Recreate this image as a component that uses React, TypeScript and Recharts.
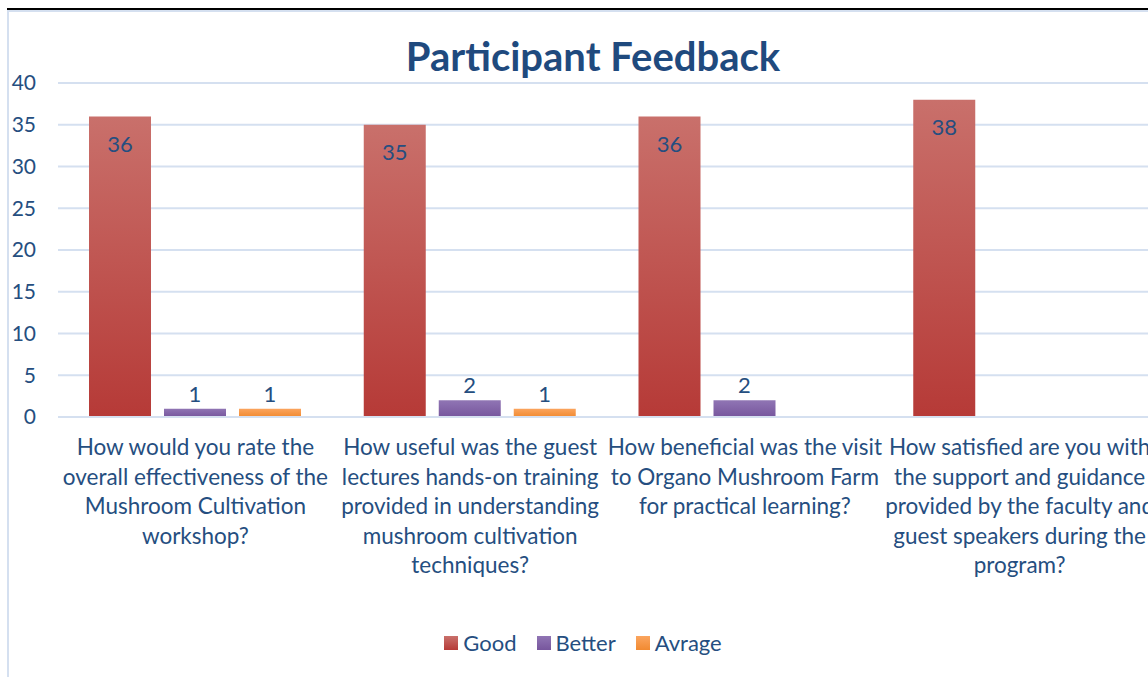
import { BarChart, Bar, XAxis, YAxis, CartesianGrid, Legend, LabelList } from "recharts";

const categories = [
  "How would you rate the\noverall effectiveness of the\nMushroom Cultivation\nworkshop?",
  "How useful was the guest\nlectures hands-on training\nprovided in understanding\nmushroom cultivation\ntechniques?",
  "How beneficial was the visit\nto Organo Mushroom Farm\nfor practical learning?",
  "How satisfied are you with\nthe support and guidance\nprovided by the faculty and\nguest speakers during the\nprogram?",
];
const good = [36, 35, 36, 38];
const better = [1, 2, 2, null];
const avrage = [1, 1, null, null];
const yTicks = [0, 5, 10, 15, 20, 25, 30, 35, 40];

const data = categories.map((name, i) => ({
  name,
  good: good[i],
  better: better[i],
  avrage: avrage[i],
}));

const FONT = "Lato, 'Open Sans', sans-serif";
const TEXT = "#254e80";
const GRID = "#d5e0f0";

const series = [
  { key: "good", name: "Good", grad: "gGood", top: "#c9706b", bottom: "#b63a37" },
  { key: "better", name: "Better", grad: "gBetter", top: "#9075b4", bottom: "#77569d" },
  { key: "avrage", name: "Avrage", grad: "gAvrage", top: "#fba55f", bottom: "#f18a31" },
];

// wrapped category labels, one tspan per line
const CategoryTick = ({ x, y, payload }: any) => {
  const lines = String(payload.value).split("\n");
  return (
    <text x={x} y={y} textAnchor="middle" fill={TEXT} fontSize={22.5} fontFamily={FONT}>
      {lines.map((l, i) => (
        <tspan key={i} x={x} dy={i === 0 ? 30 : 29.5}>
          {l}
        </tspan>
      ))}
    </text>
  );
};

const LegendContent = () => (
  <div style={{ display: "flex", justifyContent: "center", gap: 20, fontFamily: FONT, fontSize: 22, color: TEXT }}>
    {series.map((s) => (
      <div key={s.key} style={{ display: "flex", alignItems: "center", gap: 5 }}>
        <div style={{ width: 14, height: 14, background: `linear-gradient(${s.top}, ${s.bottom})` }} />
        <span>{s.name}</span>
      </div>
    ))}
  </div>
);

const App = () => {
  return (
    <div style={{ position: "relative", width: 1148, height: 677, overflow: "hidden", background: "#fff" }}>
      <style>{`body{margin:0;overflow:hidden}`}</style>
      <div style={{ position: "absolute", left: 7, top: 8, width: 1160, height: 2, background: "#000" }} />
      <div
        style={{
          position: "absolute",
          left: 7,
          top: 10,
          width: 1170,
          height: 680,
          borderLeft: `2px solid ${GRID}`,
          borderTop: `2px solid ${GRID}`,
          boxSizing: "border-box",
        }}
      >
        <div
          style={{
            position: "absolute",
            left: 0,
            right: 0,
            top: 20,
            textAlign: "center",
            fontFamily: FONT,
            fontWeight: 700,
            fontSize: 40,
            lineHeight: "48px",
            color: "#1f4a7e",
          }}
        >
          Participant Feedback
        </div>
        <BarChart
          width={1166}
          height={667}
          data={data}
          margin={{ top: 71, right: 18, left: 0, bottom: 23 }}
          barCategoryGap={31}
          barGap={13}
        >
          <defs>
            {series.map((s) => (
              <linearGradient key={s.grad} id={s.grad} x1="0" y1="0" x2="0" y2="1">
                <stop offset="0%" stopColor={s.top} />
                <stop offset="100%" stopColor={s.bottom} />
              </linearGradient>
            ))}
          </defs>
          <CartesianGrid vertical={false} stroke={GRID} strokeWidth={2} />
          <XAxis
            dataKey="name"
            axisLine={{ stroke: GRID, strokeWidth: 2 }}
            tickLine={false}
            interval={0}
            height={212}
            tick={<CategoryTick />}
          />
          <YAxis
            domain={[0, 40]}
            ticks={yTicks}
            width={49}
            axisLine={false}
            tickLine={false}
            tickSize={0}
            tickMargin={22}
            tick={{ fill: TEXT, fontSize: 21, fontFamily: FONT }}
          />
          <Legend verticalAlign="bottom" content={<LegendContent />} />
          {series.map((s) => (
            <Bar key={s.key} dataKey={s.key} name={s.name} fill={`url(#${s.grad})`} isAnimationActive={false}>
              <LabelList
                dataKey={s.key}
                position={s.key === "good" ? "insideTop" : "top"}
                offset={s.key === "good" ? 20 : 7}
                fill={TEXT}
                fontSize={22}
                fontFamily={FONT}
              />
            </Bar>
          ))}
        </BarChart>
      </div>
    </div>
  );
};

export default App;
